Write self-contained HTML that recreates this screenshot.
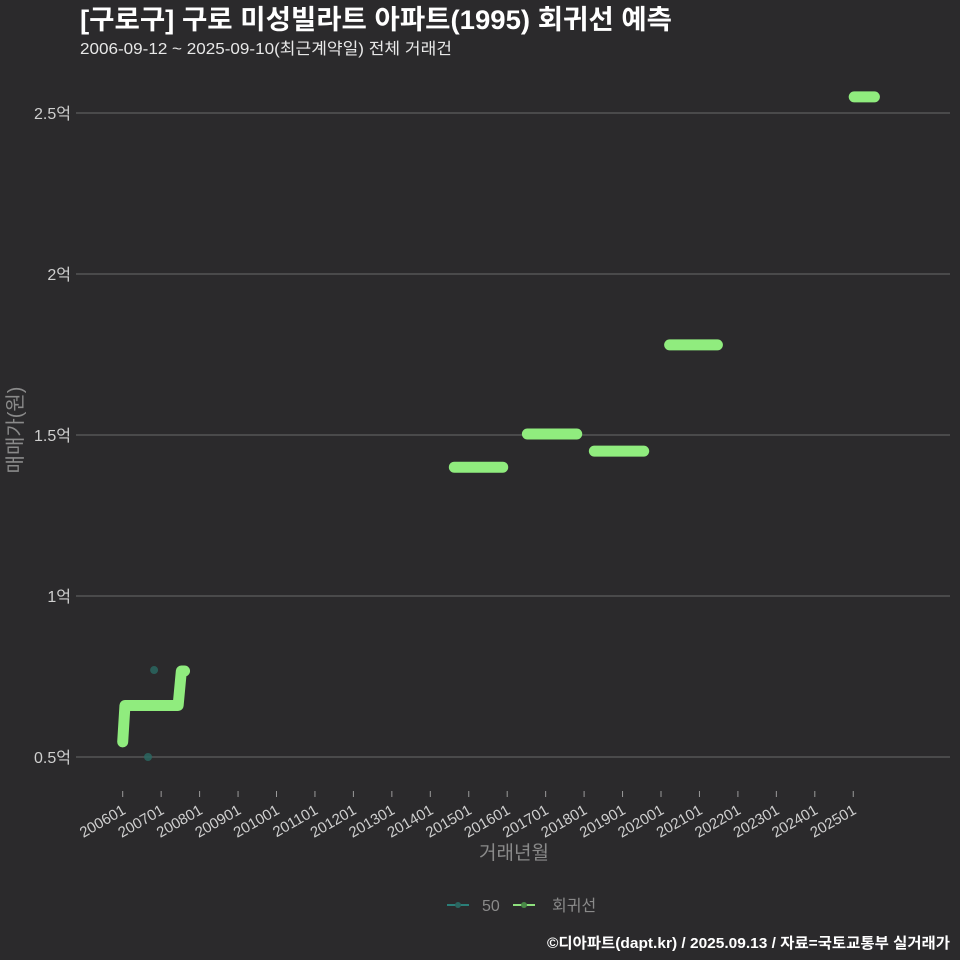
<!DOCTYPE html>
<html><head><meta charset="utf-8"><style>
html,body{margin:0;padding:0;background:#2b2a2c;}
svg{display:block;}
text{font-family:"Liberation Sans","Noto Sans CJK KR",sans-serif;}
</style></head><body>
<svg id="chart" width="960" height="960" viewBox="0 0 960 960">
<rect width="960" height="960" fill="#2b2a2c"/>
<text x="80" y="29" font-size="27" font-weight="bold" fill="#ffffff" textLength="592" lengthAdjust="spacingAndGlyphs">[구로구] 구로 미성빌라트 아파트(1995) 회귀선 예측</text>
<text x="80" y="54" font-size="16" fill="#e8e8e8" textLength="372" lengthAdjust="spacingAndGlyphs">2006-09-12 ~ 2025-09-10(최근계약일) 전체 거래건</text>
<g id="grid"></g>
<g id="yaxis"></g>
<g id="xaxis"></g>
<g id="series"></g>
<text transform="translate(22,430) rotate(-90)" text-anchor="middle" font-size="20" fill="#8a8a8a">매매가(원)</text>
<text x="514" y="859" text-anchor="middle" font-size="19" fill="#8a8a8a">거래년월</text>
<g>
<g>
<line x1="447" y1="905" x2="469" y2="905" stroke="#2a7e78" stroke-width="2"/>
<circle cx="458" cy="905" r="3" fill="#2a6660"/>
<text x="482" y="911" font-size="16" fill="#8a8a8a">50</text></g>
<g>
<line x1="513" y1="905" x2="535" y2="905" stroke="#8ee07e" stroke-width="2"/>
<circle cx="524" cy="905" r="3" fill="#4a8a48"/>
<text x="552" y="911" font-size="16" fill="#8a8a8a">회귀선</text></g>
</g>
<text x="950" y="948" text-anchor="end" font-size="15" font-weight="bold" fill="#ffffff" textLength="403" lengthAdjust="spacingAndGlyphs">©디아파트(dapt.kr) / 2025.09.13 / 자료=국토교통부 실거래가</text>
</svg>
<script>
// data (months since 2006-01, value in 억)
const yTicks = [0.5, 1, 1.5, 2, 2.5];
const yTickLabels = ["0.5억", "1억", "1.5억", "2억", "2.5억"];
const xTickLabels = ["200601","200701","200801","200901","201001","201101","201201","201301","201401","201501","201601","201701","201801","201901","202001","202101","202201","202301","202401","202501"];
const trendStepX = [0, 0.7, 17.3, 18.3, 19.3];
const trendStepY = [0.547, 0.66, 0.66, 0.767, 0.767];
const segStart = [103.5, 126.3, 147.2, 170.7, 228.3];
const segEnd = [118.6, 141.7, 162.6, 185.6, 234.6];
const segValue = [1.40, 1.503, 1.45, 1.78, 2.55];
const pointsX = [7.9, 9.8];
const pointsY = [0.5, 0.77];

const NS = "http://www.w3.org/2000/svg";
function xs(m){ return 122.7 + m * 38.45 / 12; }
function ys(v){ return 757 - (v - 0.5) * 322; }
function mk(tag, attrs, parent){ const e = document.createElementNS(NS, tag); for (const k in attrs) e.setAttribute(k, attrs[k]); parent.appendChild(e); return e; }

const grid = document.getElementById('grid'), yaxis = document.getElementById('yaxis'), xaxis = document.getElementById('xaxis'), series = document.getElementById('series');
yTicks.forEach((v, i) => {
  const g = mk('line', {x1: 76, x2: 950, y1: ys(v), y2: ys(v), stroke: '#5e5e5e', 'stroke-width': 1.2}, grid);
  
  
  const t = mk('text', {x: 71, y: ys(v) + 6, 'text-anchor': 'end', 'font-size': 16, fill: '#cfcfcf'}, yaxis);
  t.textContent = yTickLabels[i];
  
  
});
xTickLabels.forEach((lab, i) => {
  const x = xs(i * 12);
  const tk = mk('line', {x1: x, x2: x, y1: 791, y2: 797, stroke: '#9a9a9a', 'stroke-width': 1}, xaxis);
  
  
  const t = mk('text', {x: x + 4, y: 813, 'text-anchor': 'end', 'font-size': 15, fill: '#cfcfcf', transform: `rotate(-30 ${x + 4} 813)`}, xaxis);
  t.textContent = lab;
  
  
});
let d = '';
trendStepX.forEach((m, i) => { d += (i ? 'L' : 'M') + xs(m) + ',' + ys(trendStepY[i]); });
const p = mk('path', {d: d, fill: 'none', stroke: '#90ec7e', 'stroke-width': 11, 'stroke-linecap': 'round', 'stroke-linejoin': 'round'}, series);


segValue.forEach((v, i) => {
  const l = mk('line', {x1: xs(segStart[i]), x2: xs(segEnd[i]), y1: ys(v), y2: ys(v), stroke: '#90ec7e', 'stroke-width': 11, 'stroke-linecap': 'round'}, series);
  
  
});
pointsX.forEach((m, i) => {
  const c = mk('circle', {cx: xs(m), cy: ys(pointsY[i]), r: 4, fill: '#2a6660', opacity: 0.85}, series);
  
  
});
</script>
</body></html>
